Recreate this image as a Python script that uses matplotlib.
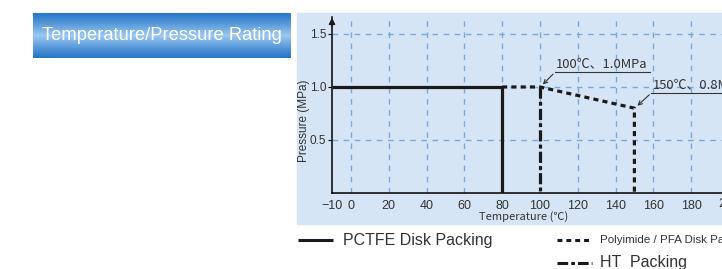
import numpy as np
import matplotlib.pyplot as plt
from matplotlib.patches import Rectangle
from matplotlib.lines import Line2D

# data
pctfe_t = [-10, 80, 80]
pctfe_p = [1.0, 1.0, 0.0]
poly_t = [80, 100, 150, 150]
poly_p = [1.0, 1.0, 0.8, 0.0]
ht_t = [100, 100]
ht_p = [1.0, 0.0]
xticks = [-10, 0, 20, 40, 60, 80, 100, 120, 140, 160, 180]
yticks = [0.5, 1.0, 1.5]
grid_x = [0, 20, 40, 60, 80, 100, 120, 140, 160, 180, 200]

W, H = 722, 269
fig = plt.figure(figsize=(W / 100, H / 100), dpi=100)
narrow = ['Liberation Sans Narrow', 'Liberation Sans', 'DejaVu Sans']
sans = ['Liberation Sans', 'DejaVu Sans']
jp = ['Noto Sans CJK JP', 'DejaVu Sans']


def fx(px):
    return px / W


def fy(py):
    return 1 - py / H


def fit_width(txt, target_px):
    # scale the font size so the text spans target_px pixels
    r = fig.canvas.get_renderer()
    w = txt.get_window_extent(renderer=r).width
    txt.set_fontsize(txt.get_fontsize() * target_px / w)


# light blue panel behind the chart
fig.patches.append(Rectangle((fx(297), fy(224)), fx(722) - fx(297), fy(13) - fy(224),
                             transform=fig.transFigure, color='#d5e5f5', zorder=-5))

# title box with vertical gradient
tax = fig.add_axes([fx(33), fy(58), fx(291) - fx(33), fy(13) - fy(58)])
grad = np.linspace(0, 1, 64)
shade = np.clip(1 - np.abs(grad - 0.5) / 0.55, 0, 1) ** 1.2
dark = np.array([0.12, 0.45, 0.78])
light = np.array([0.62, 0.79, 0.94])
cols = dark[None, :] * (1 - shade[:, None]) + light[None, :] * shade[:, None]
tax.imshow(cols[:, None, :], aspect='auto', extent=[0, 1, 0, 1])
tax.set_axis_off()
title = fig.text(fx(162), fy(36), 'Temperature/Pressure Rating', color='white', fontsize=14,
                 family=narrow, ha='center', va='center')

# main axes
ax = fig.add_axes([fx(332), fy(193), 1 - fx(332), fy(17) - fy(193)])
ax.set_facecolor('none')

for gx in grid_x:
    ax.axvline(gx, color='#7aa8dc', lw=1, ls=(0, (4, 4)), zorder=1)
for gy in yticks:
    ax.axhline(gy, color='#7aa8dc', lw=1, ls=(0, (4, 4)), zorder=1)

lw = 2.3
ax.plot(pctfe_t, pctfe_p, color='#1a1a1a', lw=lw, solid_capstyle='butt', zorder=4)
ax.plot(poly_t, poly_p, color='#1a1a1a', lw=lw, ls=(0, (1.6, 1.3)), zorder=3)
ax.plot(ht_t, ht_p, color='#1a1a1a', lw=lw, ls=(0, (3.5, 1.0, 1.2, 1.0)), zorder=3)

for s in ['top', 'right']:
    ax.spines[s].set_visible(False)
ax.spines['left'].set_linewidth(1.1)
ax.spines['bottom'].set_linewidth(1.1)

# annotations
ax.plot([108, 158], [1.14, 1.14], color='#333333', lw=0.8)
ax.annotate('', xy=(100.5, 1.005), xytext=(108, 1.14),
            arrowprops=dict(arrowstyle='->', color='#333333', lw=0.8, mutation_scale=7))
ax.text(108.5, 1.155, '100\u2103\u30011.0MPa', fontsize=9.3, family=jp, color='#333333',
        va='bottom', ha='left')
ax.plot([159, 200], [0.945, 0.945], color='#333333', lw=0.8)
ax.annotate('', xy=(150.5, 0.805), xytext=(159, 0.945),
            arrowprops=dict(arrowstyle='->', color='#333333', lw=0.8, mutation_scale=7))
ax.text(160, 0.96, '150\u2103\u30010.8MPa', fontsize=9.3, family=jp, color='#333333',
        va='bottom', ha='left', clip_on=False)

ax.set_xticks(xticks)
ax.set_xticklabels(['\u221210'] + [str(v) for v in xticks[1:]])
ax.set_yticks(yticks)
ax.set_yticklabels(['0.5', '1.0', '1.5'])
ax.tick_params(axis='x', length=0, pad=5, labelsize=9, labelcolor='#333333')
ax.tick_params(axis='y', length=3, width=0.8, pad=1, labelsize=8.5, labelcolor='#333333')
for lab in ax.get_xticklabels() + ax.get_yticklabels():
    lab.set_family(sans)

# limits after set_xticks, which would otherwise widen them
ax.set_xlim(-10, -10 + (722 - 332) / 1.89)
ax.set_ylim(0, 1.66)
ax.annotate('', xy=(-10, 1.68), xytext=(-10, 1.55), xycoords='data',
            arrowprops=dict(arrowstyle='-|>', color='#1a1a1a', lw=1.1, mutation_scale=9),
            annotation_clip=False)
# the 200 label sits past the right edge, only partly shown
ax.text(200, -0.028, '200', transform=ax.get_xaxis_transform(), fontsize=9, family=sans,
        color='#333333', ha='center', va='top', clip_on=False)

fig.text(fx(304), fy(121), 'Pressure (MPa)', rotation=90, fontsize=8.5, family=sans,
         color='#333333', ha='center', va='center')
fig.text(fx(524), fy(217), 'Temperature (\u2103)', fontsize=8, family=jp,
         color='#333333', ha='center', va='center')

# legend below the chart
fig.lines.append(Line2D([fx(298), fx(333)], [fy(240), fy(240)], transform=fig.transFigure,
                        color='#1a1a1a', lw=2.2, solid_capstyle='butt'))
fig.text(fx(343), fy(240), 'PCTFE Disk Packing', fontsize=11.5, family=sans,
         color='#333333', va='center', ha='left')
fig.lines.append(Line2D([fx(557), fx(592)], [fy(240), fy(240)], transform=fig.transFigure,
                        color='#1a1a1a', lw=2.2, ls=(0, (1.6, 1.3))))
poly_txt = fig.text(fx(600), fy(240), 'Polyimide / PFA Disk Packing', fontsize=10,
                    family=narrow, color='#333333', va='center', ha='left')
fig.lines.append(Line2D([fx(557), fx(592)], [fy(263), fy(263)], transform=fig.transFigure,
                        color='#1a1a1a', lw=2.2, ls=(0, (3.5, 1.0, 1.2, 1.0))))
fig.text(fx(600), fy(263), 'HT  Packing', fontsize=11.5, family=sans,
         color='#333333', va='center', ha='left')

fit_width(title, 242)
fit_width(poly_txt, 150)

fig.savefig('out.png', dpi=100)
